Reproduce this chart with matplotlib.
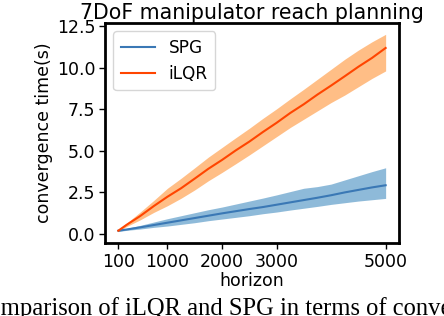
import matplotlib
matplotlib.use("Agg")
import matplotlib.pyplot as plt

horizon = [100, 250, 500, 750, 1000, 1250, 1500, 1750, 2000, 2250, 2500,
           2750, 3000, 3250, 3500, 3750, 4000, 4250, 4500, 4750, 5000]

ilqr_mean = [0.20, 0.55, 1.08, 1.68, 2.24, 2.75, 3.33, 3.92, 4.45, 5.02, 5.55,
             6.13, 6.68, 7.27, 7.80, 8.38, 8.92, 9.48, 10.05, 10.58, 11.18]
ilqr_low = [0.15, 0.45, 0.85, 1.30, 1.70, 2.15, 2.65, 3.20, 3.70, 4.22, 4.75,
            5.30, 5.85, 6.40, 6.90, 7.40, 7.90, 8.35, 8.85, 9.35, 9.80]
ilqr_high = [0.25, 0.65, 1.32, 2.02, 2.75, 3.35, 3.98, 4.62, 5.20, 5.78, 6.35,
             6.95, 7.52, 8.12, 8.70, 9.30, 9.90, 10.50, 11.05, 11.55, 12.00]

spg_mean = [0.20, 0.27, 0.40, 0.54, 0.68, 0.82, 0.96, 1.10, 1.24, 1.37, 1.50,
            1.62, 1.76, 1.90, 2.04, 2.18, 2.33, 2.50, 2.65, 2.80, 2.93]
spg_low = [0.15, 0.22, 0.30, 0.40, 0.48, 0.58, 0.68, 0.80, 0.90, 1.00, 1.10,
           1.22, 1.32, 1.44, 1.55, 1.66, 1.78, 1.88, 1.98, 2.06, 2.14]
spg_high = [0.25, 0.34, 0.52, 0.72, 0.92, 1.10, 1.28, 1.46, 1.62, 1.80, 1.98,
            2.16, 2.35, 2.55, 2.75, 2.85, 3.00, 3.25, 3.50, 3.75, 3.98]

xticks = [100, 1000, 2000, 3000, 5000]
yticks = [0.0, 2.5, 5.0, 7.5, 10.0, 12.5]

fig = plt.figure(figsize=(4.44, 3.16), dpi=100)
ax = fig.add_axes([105/444, 73/316, 294/444, 220/316])

ax.fill_between(horizon, spg_low, spg_high, color="#1f77b4", alpha=0.5, linewidth=0)
ax.plot(horizon, spg_mean, color="#3a78b5", linewidth=1.5, label="SPG")
ax.fill_between(horizon, ilqr_low, ilqr_high, color="#ff7f0e", alpha=0.5, linewidth=0)
ax.plot(horizon, ilqr_mean, color="#ff4500", linewidth=1.5, label="iLQR")

ax.set_xticks(xticks)
ax.set_xticklabels([str(t) for t in xticks])
ax.set_yticks(yticks)
ax.set_yticklabels([f"{t:.1f}" for t in yticks])
ax.set_ylim(-0.54, 12.68)
ax.tick_params(labelsize=12.5, length=4, width=1, pad=3)
for s in ax.spines.values():
    s.set_linewidth(2)

ax.set_title("7DoF manipulator reach planning", fontsize=14.8, pad=3)
ax.set_xlabel("horizon", fontsize=12.5, labelpad=1)
ax.set_ylabel("convergence time(s)", fontsize=12.5, labelpad=3)
ax.legend(loc="upper left", fontsize=12.2, handlelength=2.0, borderpad=0.45,
          labelspacing=0.45)

fig.text(-0.062, 0.003, "Comparison of iLQR and SPG in terms of convergence time",
         family="Liberation Serif", fontsize=17.7, ha="left", va="baseline")

fig.savefig("out.png", dpi=100)
